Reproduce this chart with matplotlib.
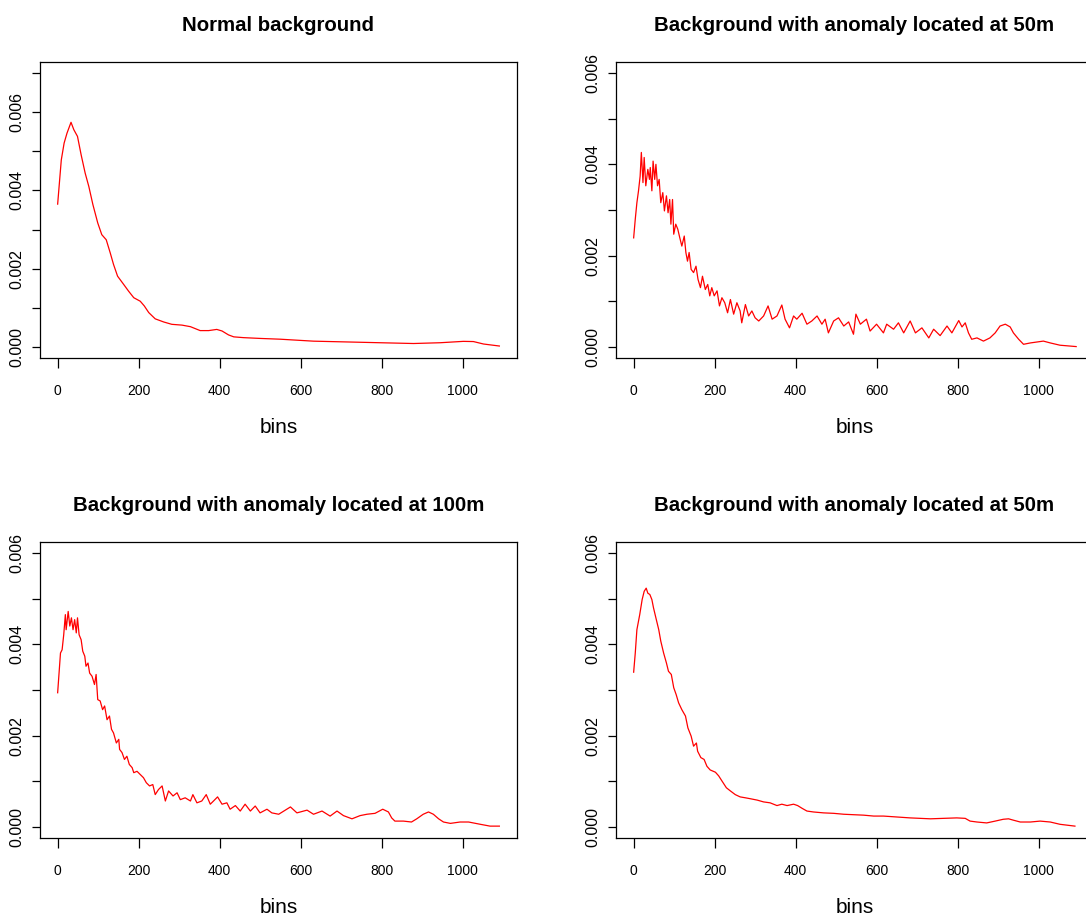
import matplotlib
matplotlib.use("Agg")
import matplotlib.pyplot as plt
import numpy as np
from matplotlib.ticker import FixedLocator, FuncFormatter

# bin positions and densities (in units of 1e-3) for each background run
normal_bins = [0, 9, 16, 23, 33, 40, 49, 58, 68, 77, 87, 99, 109, 120, 130, 138, 148,
               163, 175, 188, 204, 214, 225, 241, 262, 282, 307, 328, 352, 373, 393,
               406, 422, 435, 459, 500, 550, 599, 632, 714, 796, 879, 945, 1002, 1027,
               1052, 1091]
normal_vals = [3.65, 4.78, 5.21, 5.46, 5.74, 5.55, 5.38, 4.91, 4.44, 4.10, 3.64, 3.17,
               2.87, 2.74, 2.40, 2.11, 1.81, 1.60, 1.43, 1.26, 1.17, 1.05, 0.88, 0.72,
               0.64, 0.58, 0.56, 0.52, 0.42, 0.42, 0.45, 0.41, 0.31, 0.26, 0.24, 0.22,
               0.20, 0.17, 0.15, 0.13, 0.11, 0.09, 0.11, 0.145, 0.14, 0.077, 0.026]

anom50a_bins = [0, 4, 8, 12, 16, 19, 23, 26, 30, 35, 39, 41, 45, 48, 52, 55, 59, 63, 67,
                72, 76, 81, 85, 89, 92, 96, 99, 104, 109, 114, 119, 125, 129, 133, 137,
                142, 148, 154, 159, 165, 170, 177, 183, 188, 193, 199, 206, 212, 218,
                225, 232, 239, 247, 255, 263, 267, 276, 284, 292, 300, 309, 321, 332,
                342, 354, 366, 374, 385, 395, 403, 416, 428, 440, 453, 465, 473, 481,
                494, 506, 519, 531, 543, 549, 560, 575, 584, 600, 617, 625, 642, 654,
                667, 683, 696, 712, 729, 741, 757, 774, 786, 803, 811, 819, 827, 835,
                848, 864, 880, 893, 905, 918, 930, 938, 951, 963, 980, 996, 1012, 1029,
                1053, 1093]
anom50a_vals = [2.39, 2.80, 3.16, 3.42, 3.74, 4.26, 3.60, 4.15, 3.53, 3.89, 3.67, 3.93,
                3.42, 4.07, 3.67, 4.00, 3.53, 3.67, 3.16, 3.38, 2.98, 3.31, 2.94, 3.23,
                2.69, 3.23, 2.47, 2.69, 2.58, 2.39, 2.21, 2.43, 2.07, 1.88, 2.07, 1.70,
                1.63, 1.77, 1.48, 1.30, 1.55, 1.26, 1.37, 1.12, 1.30, 1.12, 1.23, 0.90,
                1.08, 0.97, 0.75, 1.04, 0.72, 0.97, 0.79, 0.53, 0.93, 0.68, 0.79, 0.64,
                0.57, 0.68, 0.90, 0.61, 0.68, 0.92, 0.61, 0.42, 0.68, 0.61, 0.74, 0.50,
                0.57, 0.68, 0.50, 0.61, 0.31, 0.57, 0.64, 0.46, 0.55, 0.28, 0.72, 0.50,
                0.61, 0.35, 0.50, 0.31, 0.50, 0.39, 0.53, 0.31, 0.57, 0.31, 0.42, 0.20,
                0.39, 0.25, 0.46, 0.31, 0.58, 0.44, 0.53, 0.31, 0.17, 0.20, 0.13, 0.20,
                0.31, 0.46, 0.50, 0.44, 0.31, 0.17, 0.06, 0.09, 0.11, 0.13, 0.09, 0.04,
                0.01]

anom100_bins = [0, 7, 11, 15, 19, 21, 26, 30, 34, 38, 42, 46, 49, 53, 58, 62, 67, 70, 75,
                79, 85, 91, 95, 99, 105, 111, 116, 122, 128, 133, 138, 145, 151, 153,
                159, 165, 171, 177, 184, 188, 196, 204, 212, 219, 227, 235, 241, 249,
                258, 266, 274, 285, 295, 303, 315, 328, 334, 344, 356, 367, 377, 385,
                395, 406, 418, 426, 439, 451, 463, 476, 488, 500, 517, 529, 546, 575,
                591, 616, 632, 653, 673, 690, 706, 727, 747, 764, 784, 803, 817, 825,
                833, 854, 874, 887, 903, 916, 928, 941, 953, 970, 994, 1015, 1044, 1068,
                1091]
anom100_vals = [2.94, 3.81, 3.88, 4.21, 4.65, 4.32, 4.72, 4.40, 4.58, 4.32, 4.54, 4.25,
                4.58, 4.21, 4.10, 3.85, 3.74, 3.52, 3.59, 3.37, 3.30, 3.12, 3.34, 2.79,
                2.76, 2.57, 2.65, 2.35, 2.43, 2.14, 2.06, 1.84, 1.92, 1.70, 1.63, 1.48,
                1.55, 1.37, 1.30, 1.19, 1.22, 1.15, 1.08, 0.97, 0.90, 0.93, 0.71, 0.82,
                0.90, 0.57, 0.79, 0.68, 0.75, 0.60, 0.64, 0.57, 0.71, 0.53, 0.57, 0.71,
                0.50, 0.57, 0.66, 0.50, 0.53, 0.39, 0.47, 0.35, 0.50, 0.35, 0.46, 0.31,
                0.39, 0.31, 0.28, 0.44, 0.31, 0.37, 0.28, 0.35, 0.24, 0.35, 0.25, 0.18,
                0.25, 0.28, 0.30, 0.39, 0.33, 0.20, 0.13, 0.13, 0.11, 0.18, 0.28, 0.33,
                0.28, 0.18, 0.11, 0.08, 0.11, 0.11, 0.06, 0.02, 0.02]

anom50b_bins = [0, 4, 8, 15, 21, 26, 31, 35, 40, 45, 49, 56, 62, 67, 74, 81, 86, 93, 99,
                105, 111, 119, 128, 134, 142, 148, 155, 158, 166, 174, 181, 189, 202,
                210, 218, 229, 239, 251, 263, 276, 288, 305, 321, 337, 354, 366, 379,
                395, 405, 416, 428, 444, 469, 494, 519, 543, 568, 593, 617, 650, 683,
                708, 733, 765, 798, 819, 831, 848, 872, 893, 913, 926, 938, 955, 980,
                1004, 1029, 1053, 1090]
anom50b_vals = [3.39, 3.81, 4.32, 4.65, 4.98, 5.16, 5.23, 5.12, 5.09, 4.98, 4.80, 4.54,
                4.32, 4.07, 3.81, 3.59, 3.41, 3.34, 3.05, 2.90, 2.72, 2.57, 2.43, 2.17,
                1.99, 1.77, 1.84, 1.66, 1.52, 1.48, 1.33, 1.25, 1.20, 1.12, 1.01, 0.86,
                0.79, 0.71, 0.66, 0.64, 0.62, 0.59, 0.55, 0.53, 0.47, 0.50, 0.47, 0.50,
                0.47, 0.41, 0.35, 0.33, 0.31, 0.30, 0.28, 0.27, 0.26, 0.24, 0.24, 0.22,
                0.20, 0.19, 0.18, 0.19, 0.20, 0.19, 0.13, 0.11, 0.09, 0.13, 0.17, 0.18,
                0.15, 0.11, 0.11, 0.13, 0.11, 0.06, 0.02]

titles = ["Normal background",
          "Background with anomaly located at 50m",
          "Background with anomaly located at 100m",
          "Background with anomaly located at 50m"]

W, H = 1086, 919
fig = plt.figure(figsize=(W / 100, H / 100), dpi=100)
plt.rcParams["font.family"] = ["Liberation Sans", "DejaVu Sans"]

# (left, top, right, bottom) of each plot box in pixels
boxes = [(40, 62, 517, 358), (616, 62, 1093, 358),
         (40, 542, 517, 838), (616, 542, 1093, 838)]
series = [(normal_bins, normal_vals, 0.007),
          (anom50a_bins, anom50a_vals, 0.006),
          (anom100_bins, anom100_vals, 0.006),
          (anom50b_bins, anom50b_vals, 0.006)]

for (l, t, r, b), (xs, ys, ymax), title in zip(boxes, series, titles):
    ax = fig.add_axes([l / W, 1 - b / H, (r - l) / W, (b - t) / H])
    ax.plot(xs, np.array(ys) * 1e-3, color="red", lw=0.9)
    ax.set_xlim(-43.6, 1134.6)
    ax.set_ylim(-0.04 * ymax, 1.04 * ymax)

    ax.set_xticks([0, 200, 400, 600, 800, 1000])
    ax.yaxis.set_major_locator(FixedLocator(np.arange(0, ymax + 1e-6, 0.001)))
    ax.yaxis.set_major_formatter(FuncFormatter(
        lambda v, _: f"{v:.3f}" if round(v * 1000) % 2 == 0 else ""))

    for s in ax.spines.values():
        s.set_linewidth(0.9)
    ax.tick_params(axis="x", length=7.5, width=0.9, pad=11, labelsize=10)
    ax.tick_params(axis="y", length=6, width=0.9, pad=5, labelsize=11.5)
    for lab in ax.get_yticklabels():
        lab.set_rotation(90)
        lab.set_va("center")

    ax.set_xlabel("bins", fontsize=15, labelpad=14.5)
    ax.set_title(title, fontweight="bold", fontsize=14.7, pad=22)

fig.savefig("out.png", dpi=100)
